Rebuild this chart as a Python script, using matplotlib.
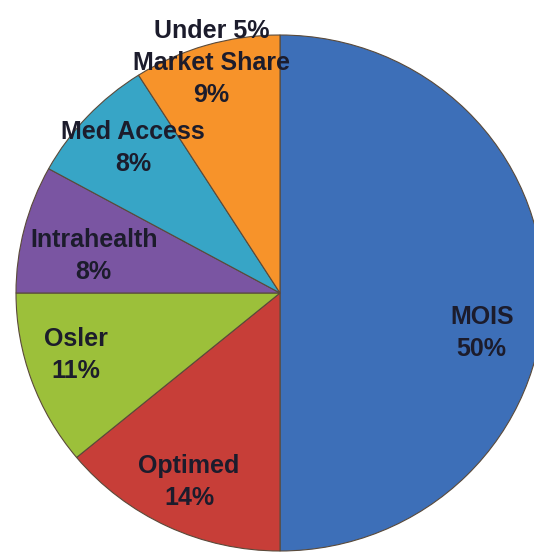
import numpy as np
import matplotlib
matplotlib.use('Agg')
import matplotlib.pyplot as plt

# data
labels = ['MOIS', 'Optimed', 'Osler', 'Intrahealth', 'Med Access',
          'Under 5%\nMarket Share']
shares = [50, 14, 11, 8, 8, 9]
colors = ['#3d6fb8', '#c73e38', '#9cc03a', '#7a55a2', '#37a5c6', '#f7932a']

# label placement: fraction of radius, angle nudge (deg)
lab_dist = [0.78, 0.81, 0.81, 0.72, 0.79, 0.93]
lab_nudge = [-11.5, 0, -2.5, 3, -2, 0]

W, H = 534, 558
CX, CY = 280, 293        # pixel centre (from top-left)
RX, RY = 264, 258        # pixel radii (slightly squashed pie)

fig = plt.figure(figsize=(W / 100, H / 100), dpi=100)
ax = fig.add_axes([0, 0, 1, 1])

wedges, _ = ax.pie(shares, colors=colors, startangle=90, counterclock=False,
                   center=(0, 0), radius=1,
                   wedgeprops=dict(edgecolor='#5a4a3a', linewidth=0.8))

for w, lab, val, d, nd in zip(wedges, labels, shares, lab_dist, lab_nudge):
    mid = np.deg2rad((w.theta1 + w.theta2) / 2 + nd)
    ax.text(d * np.cos(mid), d * np.sin(mid), f'{lab}\n{val}%',
            ha='center', va='center',
            fontsize=18, fontweight='bold', family='Liberation Sans',
            color='#1c1c2c', linespacing=1.42)

ax.set_aspect('auto')
ax.set_xlim(-CX / RX, (W - CX) / RX)
ax.set_ylim(-(H - CY) / RY, CY / RY)
ax.axis('off')

fig.savefig('out.png', dpi=100, facecolor='white')
